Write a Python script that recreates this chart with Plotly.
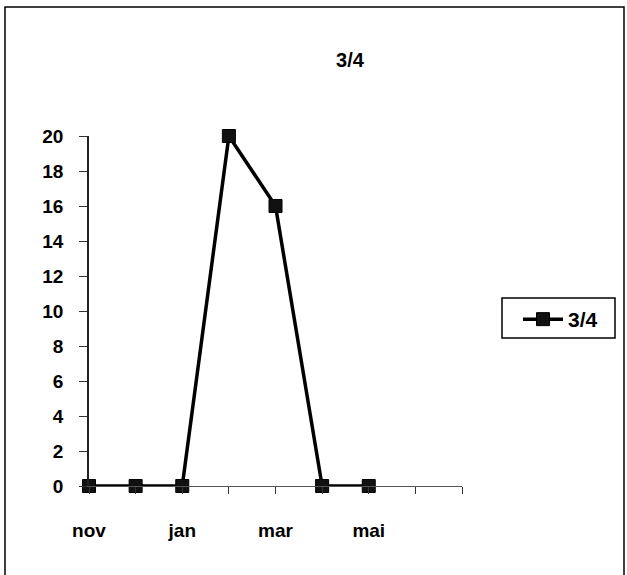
import plotly.graph_objects as go

months = ["nov", "dec", "jan", "feb", "mar", "apr", "mai", "jun", "jul"]
values = [0, 0, 0, 20, 16, 0, 0]
series_name = "3/4"
y_ticks = list(range(0, 21, 2))

W, H = 627, 575
L, R, T, B = 89, 627 - 462, 136, 575 - 486
pw, ph = W - L - R, H - T - B

def px(x):
    return (x - L) / pw

def py(y):
    return (H - B - y) / ph

x_idx = list(range(len(values)))
tick_idx = list(range(len(months)))
tick_text = [m if i % 2 == 0 and i < 7 else "" for i, m in enumerate(months)]

fig = go.Figure()
fig.add_trace(go.Scatter(
    x=x_idx, y=values, mode="lines+markers", name=series_name,
    line=dict(color="black", width=3.5),
    marker=dict(symbol="square", size=13, color="#111111",
                line=dict(color="black", width=1)),
    cliponaxis=False,
))

font = "Liberation Sans, Arial, sans-serif"
fig.update_layout(
    width=W, height=H,
    margin=dict(l=L, r=R, t=T, b=B),
    paper_bgcolor="white", plot_bgcolor="white",
    showlegend=True,
    title=dict(text="3/4", x=px(350), xanchor="center", xref="paper",
               y=1 - 60 / H, yanchor="middle",
               font=dict(family=font, size=20, color="black", weight="bold")),
    legend=dict(x=px(518), y=py(299), xanchor="left", yanchor="top",
                borderwidth=0, bgcolor="rgba(0,0,0,0)",
                font=dict(family=font, size=21, color="black", weight="bold"),
                itemwidth=40, tracegroupgap=0),
    xaxis=dict(range=[0, 8], tickmode="array", tickvals=tick_idx, ticktext=tick_text,
               showgrid=False, zeroline=False, showline=True, linecolor="#555555",
               linewidth=1, ticks="outside", ticklen=7, tickcolor="#333333",
               ticklabelstandoff=20,
               tickfont=dict(family=font, size=19, color="black", weight="bold")),
    yaxis=dict(range=[0, 20], tickmode="array", tickvals=y_ticks,
               showgrid=False, zeroline=False, showline=True, linecolor="#222222",
               linewidth=1.5, ticks="outside", ticklen=8, tickcolor="#333333",
               ticklabelstandoff=12,
               tickfont=dict(family=font, size=19, color="black", weight="bold")),
)

# outer frame of the chart
fig.add_shape(type="rect", xref="paper", yref="paper",
              x0=px(5), x1=px(624), y0=py(580), y1=py(7),
              line=dict(color="black", width=1.5), fillcolor="rgba(0,0,0,0)",
              layer="below")
# legend box
fig.add_shape(type="rect", xref="paper", yref="paper",
              x0=px(502), x1=px(615), y0=py(338), y1=py(298),
              line=dict(color="black", width=1.5), fillcolor="white",
              layer="below")

fig.write_html("out.html")
